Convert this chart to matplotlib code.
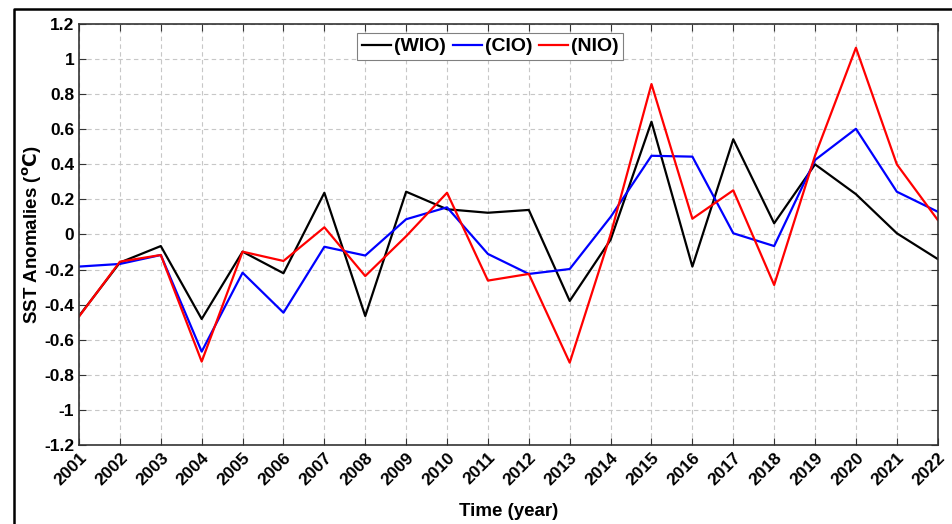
import matplotlib.pyplot as plt
import matplotlib.transforms as mtransforms
from matplotlib.lines import Line2D

# SST anomalies
years = list(range(2001, 2023))
wio = [-0.465, -0.16, -0.066, -0.482, -0.098, -0.221, 0.238, -0.465, 0.244, 0.144, 0.124,
       0.14, -0.379, -0.03, 0.643, -0.183, 0.543, 0.064, 0.40, 0.23, 0.007, -0.14]
cio = [-0.183, -0.168, -0.117, -0.668, -0.218, -0.446, -0.07, -0.12, 0.087, 0.155, -0.111,
       -0.225, -0.197, 0.10, 0.449, 0.444, 0.007, -0.066, 0.425, 0.603, 0.244, 0.13]
nio = [-0.468, -0.155, -0.117, -0.725, -0.098, -0.151, 0.041, -0.237, -0.01, 0.238, -0.263,
       -0.225, -0.731, 0.0, 0.858, 0.09, 0.252, -0.288, 0.45, 1.065, 0.40, 0.083]
labels = ["(WIO)", "(CIO)", "(NIO)"]
colors = ["black", "blue", "red"]

plt.rcParams['font.family'] = ['Liberation Sans', 'DejaVu Sans']
plt.rcParams['font.weight'] = 'bold'

fig = plt.figure(figsize=(9.52, 5.24), dpi=100)
ax = fig.add_axes([0.083, 0.151, 0.902, 0.803])

for serie, lab, col in zip([wio, cio, nio], labels, colors):
    ax.plot(years, serie, color=col, lw=1.6, label=lab)

ax.set_xlim(2001, 2022)
ax.set_ylim(-1.2, 1.2)
ax.set_xticks(years)
ax.set_xticklabels([str(y) for y in years], rotation=45, ha='right',
                   rotation_mode='anchor', fontsize=12.5, fontweight='bold')
# MATLAB puts the rotated labels a bit right of the tick
desplaza = mtransforms.ScaledTranslation(5 / 100, -3 / 100, fig.dpi_scale_trans)
for t in ax.get_xticklabels():
    t.set_transform(t.get_transform() + desplaza)
yt = [round(-1.2 + 0.2 * i, 1) for i in range(13)]
ax.set_yticks(yt)
ax.set_yticklabels([("%g" % v) for v in yt], fontsize=12.5, fontweight='bold')
ax.tick_params(direction='in', length=5, top=True, right=True, color='0.2')
ax.grid(True, ls=(0, (4, 3)), color='0.78', lw=0.8)
for s in ax.spines.values():
    s.set_color('0.2')
    s.set_linewidth(1.2)

ax.set_xlabel("Time (year)", fontsize=13.5, fontweight='bold', labelpad=11)
ax.set_ylabel("SST Anomalies ($\\mathbf{^oC}$)", fontsize=13.5, fontweight='bold', labelpad=0)

leg = ax.legend(loc='upper left', bbox_to_anchor=(0.3236, 0.979), ncol=3,
                handlelength=1.5, handletextpad=0.15, columnspacing=0.35,
                borderpad=0.25, borderaxespad=0, fancybox=False, framealpha=1,
                prop={'size': 14, 'weight': 'bold'})
leg.get_frame().set_edgecolor('0.5')
leg.get_frame().set_linewidth(0.8)

# outer frame from the original export
fig.add_artist(Line2D([13.5 / 952, 13.5 / 952, 1.0], [0.0, 1 - 8.5 / 524, 1 - 8.5 / 524],
                      transform=fig.transFigure, color='black', lw=1.8))

fig.savefig("out.png", dpi=100)
